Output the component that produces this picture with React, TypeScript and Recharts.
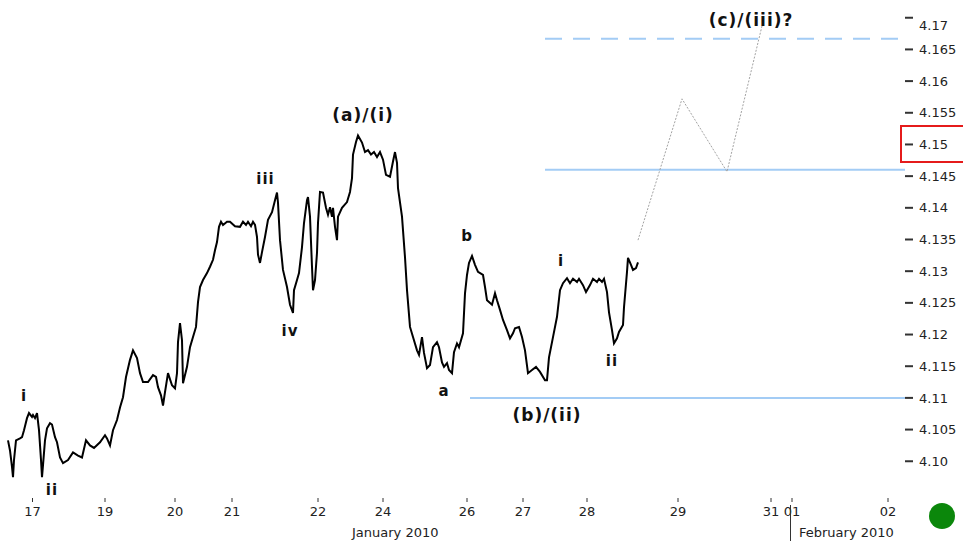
import { ComposedChart, Line, XAxis, YAxis, ReferenceLine, Scatter } from "recharts";

// time axis in session units (bars), price in EUR/PLN-style quote
const legToTop: [number, number][] = [
  [1.6, 4.1033], [2.0, 4.1017], [2.4, 4.0991], [2.6, 4.0975], [2.8, 4.1002], [3.2, 4.1033], [4.0, 4.1036],
  [4.4, 4.1038], [4.8, 4.1049], [5.4, 4.1068], [5.8, 4.1076], [6.4, 4.107], [6.6, 4.1073], [7.0, 4.1068],
  [7.4, 4.1076], [7.8, 4.1049], [8.2, 4.1002], [8.4, 4.0975], [8.6, 4.0994], [9.0, 4.1033], [9.4, 4.1052],
  [10.0, 4.106], [10.4, 4.1058], [11.0, 4.1038], [11.4, 4.103], [12.0, 4.1006], [12.6, 4.0997], [13.6, 4.1002],
  [14.6, 4.1014], [15.6, 4.1009], [16.4, 4.1006], [17.2, 4.1033], [18.0, 4.1025], [18.8, 4.1021], [20.0, 4.103],
  [21.0, 4.1041], [21.4, 4.1036], [22.0, 4.1025], [22.6, 4.1049], [23.4, 4.1065], [24.0, 4.1085], [24.6, 4.1101],
  [25.2, 4.1133], [26.0, 4.116], [26.6, 4.1175], [27.4, 4.1163], [28.0, 4.1139], [28.6, 4.1125], [29.6, 4.1125],
  [30.6, 4.1136], [31.2, 4.1133], [31.6, 4.1117], [32.2, 4.1104], [32.6, 4.1088], [33.0, 4.1109], [33.6, 4.1139],
  [34.4, 4.112], [35.0, 4.1115], [35.4, 4.1139], [35.6, 4.1188], [36.0, 4.1218], [36.4, 4.1191], [36.6, 4.1123],
  [37.4, 4.1149], [38.0, 4.118], [38.6, 4.1196], [39.2, 4.1212], [39.6, 4.1251], [40.0, 4.1275], [40.6, 4.1286],
  [41.4, 4.1297], [42.0, 4.1307], [42.6, 4.1318], [43.0, 4.1333], [43.4, 4.1346], [43.8, 4.137], [44.2, 4.1378],
  [44.6, 4.1373], [45.4, 4.1378], [46.0, 4.1378], [47.0, 4.1371], [48.0, 4.137], [48.6, 4.1378], [49.2, 4.1373],
  [49.6, 4.1378], [50.2, 4.1371], [50.6, 4.1378], [51.0, 4.1373], [51.4, 4.1354], [51.6, 4.1326], [52.0, 4.1313],
  [52.4, 4.133], [53.0, 4.1354], [53.6, 4.1381], [54.4, 4.1393], [55.0, 4.1412], [55.4, 4.1424], [55.6, 4.1408],
  [56.0, 4.1349], [56.6, 4.1302], [57.4, 4.1275], [58.0, 4.1247], [58.6, 4.1234], [58.8, 4.127], [59.4, 4.1286],
  [59.8, 4.1297], [60.4, 4.1338], [60.8, 4.1376], [61.4, 4.1412], [61.6, 4.1417], [62.0, 4.1386], [62.4, 4.1307],
  [62.6, 4.127], [63.0, 4.1286], [63.4, 4.1329], [63.6, 4.1376], [64.0, 4.1425], [64.6, 4.1424], [65.2, 4.14],
  [65.6, 4.1389], [66.0, 4.1401], [66.4, 4.1386], [66.6, 4.14], [67.0, 4.137], [67.4, 4.1349], [67.6, 4.1386],
  [68.4, 4.14], [69.4, 4.1409], [70.0, 4.1425], [70.4, 4.1447], [70.6, 4.1484], [71.2, 4.1504], [71.6, 4.1514],
];

const legToA: [number, number][] = [
  [72.4, 4.1503], [73.0, 4.1488], [73.6, 4.1491], [74.2, 4.1484], [74.8, 4.1488], [75.4, 4.148], [76.0, 4.1488],
  [76.6, 4.1476], [77.2, 4.1452], [78.0, 4.1449], [78.6, 4.1473], [79.0, 4.1488], [79.4, 4.1471], [79.6, 4.1431],
  [80.4, 4.1386], [81.0, 4.1322], [81.4, 4.127], [82.0, 4.1212], [82.6, 4.1196], [83.4, 4.1175], [83.8, 4.1168],
  [84.4, 4.1196], [84.8, 4.1171], [85.4, 4.1147], [86.0, 4.1152], [86.6, 4.118], [87.4, 4.1188], [87.8, 4.118],
  [88.4, 4.1156], [88.8, 4.1149], [89.4, 4.1155], [89.8, 4.1144], [90.4, 4.1139],
];

const legToB: [number, number][] = [
  [90.8, 4.1172], [91.4, 4.1186], [91.8, 4.118], [92.6, 4.1202], [93.0, 4.1265], [93.4, 4.1294], [93.8, 4.1313],
  [94.4, 4.1324],
];

const legToLow: [number, number][] = [
  [95.0, 4.131], [95.6, 4.1299], [96.6, 4.1294], [97.0, 4.1275], [97.4, 4.1254], [98.4, 4.1247], [99.0, 4.1265],
  [99.4, 4.1254], [100.0, 4.1239], [100.6, 4.1223], [101.4, 4.1207], [102.0, 4.1194], [102.6, 4.1202],
  [103.0, 4.121], [103.8, 4.1212], [104.4, 4.1196], [105.0, 4.1175], [105.6, 4.1139], [106.4, 4.1144],
  [107.2, 4.1149], [108.0, 4.1141], [109.0, 4.1128], [109.4, 4.1128],
];

const legToEnd: [number, number][] = [
  [109.8, 4.1164], [110.6, 4.1196], [111.4, 4.1228], [112.0, 4.127], [112.6, 4.1281], [113.4, 4.1289],
  [114.0, 4.1281], [114.6, 4.1288], [115.4, 4.1283], [115.8, 4.1288], [116.6, 4.1278], [117.2, 4.1267],
  [118.0, 4.1278], [118.6, 4.1288], [119.4, 4.1283], [119.8, 4.1288], [120.4, 4.1283], [120.8, 4.1288],
  [121.4, 4.1267], [121.8, 4.1235], [122.4, 4.1207], [122.8, 4.1186], [123.4, 4.1194], [123.8, 4.1204],
  [124.6, 4.1215], [124.8, 4.1243], [125.4, 4.1299], [125.6, 4.1321], [126.2, 4.131], [126.6, 4.1302],
  [127.2, 4.1305], [127.6, 4.1314],
];

// projected path towards (c)/(iii)
const projection: [number, number][] = [
  [127.6, 4.1349], [136.4, 4.1572], [145.4, 4.1457], [152.4, 4.1687],
];

const supportLevel = { value: 4.11, from: 94, to: 181 };
const middleLevel = { value: 4.146, from: 109, to: 181 };
const targetLevel = { value: 4.1667, from: 109, to: 181 };

const majorLabels: [string, number, number][] = [
  ["(a)/(i)", 72.6, 4.1547],
  ["(b)/(ii)", 109.4, 4.1073],
  ["(c)/(iii)?", 150.2, 4.1697],
];

const minorLabels: [string, number, number][] = [
  ["i", 4.8, 4.1103],
  ["ii", 10.4, 4.0954],
  ["iii", 53.1, 4.1446],
  ["iv", 58.0, 4.1205],
  ["a", 88.8, 4.1111],
  ["b", 93.4, 4.1356],
  ["i", 112.2, 4.1316],
  ["ii", 122.4, 4.1158],
];

const xTicks = [6.5, 21, 35, 46.4, 63.6, 76.6, 93.4, 104.6, 117.4, 135.6, 154.2, 158.4, 177.6];
const xTickLabels = ["17", "19", "20", "21", "22", "24", "26", "27", "28", "29", "31", "01", "02"];

const yTicks = [4.1, 4.105, 4.11, 4.115, 4.12, 4.125, 4.13, 4.135, 4.14, 4.145, 4.15, 4.155, 4.16, 4.165, 4.17];
const yTickLabels = ["4.10", "4.105", "4.11", "4.115", "4.12", "4.125", "4.13", "4.135", "4.14", "4.145", "4.15", "4.155", "4.16", "4.165", "4.17"];

const font = "DejaVu Sans, Verdana, sans-serif";
const levelColor = "#a3ccf5";

const priceData = [...legToTop, ...legToA, ...legToB, ...legToLow, ...legToEnd].map(([t, v]) => ({ t, v }));
const projectionData = projection.map(([t, v]) => ({ t, v }));
const majorData = majorLabels.map(([text, t, v]) => ({ text, t, v }));
const minorData = minorLabels.map(([text, t, v]) => ({ text, t, v }));

function labelShape(size: number) {
  return (props: any) => (
    <text
      x={props.cx}
      y={props.cy}
      textAnchor="middle"
      dominantBaseline="central"
      fontFamily={font}
      fontWeight="bold"
      fontSize={size}
      letterSpacing={1}
      fill="#111"
    >
      {props.payload.text}
    </text>
  );
}

function YTick({ x, y, payload }: any) {
  const i = yTicks.indexOf(payload.value);
  const top = payload.value === 4.17;
  return (
    <text x={x} y={top ? y + 8 : y} dy="0.355em" textAnchor="start" fontFamily={font} fontSize={13} fill="#222">
      {yTickLabels[i]}
    </text>
  );
}

function levelLine(level: { value: number; from: number; to: number }, dashed: boolean) {
  return (
    <ReferenceLine
      segment={[{ x: level.from, y: level.value }, { x: level.to, y: level.value }]}
      stroke={levelColor}
      strokeWidth={2}
      strokeDasharray={dashed ? "17 11" : undefined}
    />
  );
}

export default function App() {
  return (
    <div style={{ position: "absolute", left: 0, top: 0, width: 963, height: 550, background: "#fff" }}>
      <ComposedChart width={963} height={550} margin={{ top: 0, right: 0, bottom: 0, left: 0 }}>
        <XAxis
          dataKey="t"
          type="number"
          domain={[0, 181]}
          ticks={xTicks}
          interval={0}
          tickFormatter={(v: number) => xTickLabels[xTicks.indexOf(v)]}
          axisLine={false}
          tickLine={{ stroke: "#333" }}
          tickSize={4}
          tickMargin={5}
          height={52}
          tick={{ fontFamily: font, fontSize: 13, fill: "#222" }}
        />
        <YAxis
          dataKey="v"
          type="number"
          orientation="right"
          domain={[4.0942, 4.1728]}
          ticks={yTicks}
          interval={0}
          axisLine={false}
          tickLine={{ stroke: "#333", strokeWidth: 2 }}
          tickSize={8}
          tickMargin={6}
          width={58}
          tick={<YTick />}
        />
        {levelLine(supportLevel, false)}
        {levelLine(middleLevel, false)}
        {levelLine(targetLevel, true)}
        <Line
          data={projectionData}
          dataKey="v"
          type="linear"
          stroke="#a3a3a3"
          strokeWidth={1}
          strokeDasharray="2 1.5"
          dot={false}
          activeDot={false}
          isAnimationActive={false}
        />
        <Line
          data={priceData}
          dataKey="v"
          type="linear"
          stroke="#000"
          strokeWidth={2}
          dot={false}
          activeDot={false}
          isAnimationActive={false}
        />
        <Scatter data={majorData} dataKey="v" shape={labelShape(17)} isAnimationActive={false} />
        <Scatter data={minorData} dataKey="v" shape={labelShape(15)} isAnimationActive={false} />
      </ComposedChart>
      <div style={{ position: "absolute", left: 352, top: 525, fontFamily: font, fontSize: 13, color: "#222", whiteSpace: "nowrap" }}>
        January 2010
      </div>
      <div style={{ position: "absolute", left: 790, top: 505, width: 1, height: 36, background: "#333" }} />
      <div style={{ position: "absolute", left: 799, top: 525, fontFamily: font, fontSize: 13, color: "#222", whiteSpace: "nowrap" }}>
        February 2010
      </div>
      <div style={{ position: "absolute", left: 900, top: 125, width: 63, height: 38, boxSizing: "border-box", border: "2px solid #e51b1b", borderRight: "none" }} />
      <div style={{ position: "absolute", left: 929, top: 503, width: 26, height: 26, borderRadius: "50%", background: "#0b870b" }} />
    </div>
  );
}
